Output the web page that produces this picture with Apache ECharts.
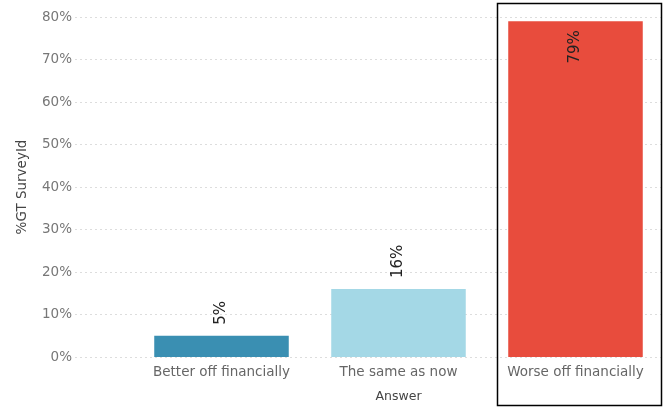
<!DOCTYPE html>
<html>
<head>
<meta charset="utf-8">
<script src="https://cdn.jsdelivr.net/npm/echarts@6/dist/echarts.min.js"></script>
<style>
html,body{margin:0;padding:0;background:#fff;}
#c{width:663px;height:407px;}
</style>
</head>
<body>
<div id="c"></div>
<script>
const categories = ["Better off financially", "The same as now", "Worse off financially"];
const values = [5, 16, 79];
const barColors = ["#3a8fb2", "#a4d8e6", "#e84c3d"];
const yTicks = [0, 10, 20, 30, 40, 50, 60, 70, 80];

const chart = echarts.init(document.getElementById('c'), null, {renderer: 'canvas'});
const font = '"DejaVu Sans", sans-serif';
const option = {
  animation: false,
  backgroundColor: '#fff',
  textStyle: {fontFamily: font},
  grid: [
    {left: 75, right: 0, top: 17, bottom: 50, containLabel: false, outerBoundsMode: 'none'},
    {left: 133, right: -1, top: 17, bottom: 50, containLabel: false, outerBoundsMode: 'none'}
  ],
  xAxis: [
    {gridIndex: 0, type: 'value', show: false, min: 0, max: 1},
    {gridIndex: 1, type: 'category', data: categories,
     axisLine: {show: false}, axisTick: {show: false},
     axisLabel: {color: '#666', fontSize: 13.5, margin: 8, fontFamily: font,
       interval: 0, hideOverlap: false},
     name: 'Answer', nameLocation: 'middle', nameGap: 33,
     nameTextStyle: {color: '#444', fontSize: 12.5, fontFamily: font}}
  ],
  yAxis: [
    {gridIndex: 0, type: 'value', min: 0, max: 80, interval: 10,
     axisLine: {show: false}, axisTick: {show: false},
     axisLabel: {color: '#777', fontSize: 13.5, margin: 3,
       formatter: v => yTicks.indexOf(v) >= 0 ? v + '%' : '', fontFamily: font},
     splitLine: {lineStyle: {color: '#ddd', type: [2, 3], width: 1}},
     name: '%GT SurveyId', nameLocation: 'middle', nameGap: 46, nameRotate: 90,
     nameTextStyle: {color: '#444', fontSize: 13.5, fontFamily: font}},
    {gridIndex: 1, type: 'value', min: 0, max: 80, interval: 10, show: false}
  ],
  series: [{
    type: 'bar',
    xAxisIndex: 1, yAxisIndex: 1,
    barCategoryGap: '24%',
    data: values.map((v, i) => ({value: v, itemStyle: {color: barColors[i]}})),
    label: {
      show: true,
      rotate: 90,
      color: '#222',
      fontSize: 15,
      fontFamily: font,
      formatter: p => p.value + '%',
      position: 'top',
      align: 'left',
      verticalAlign: 'middle',
      distance: 11
    }
  }],
  graphic: [{
    type: 'rect',
    shape: {x: 497.5, y: 3.5, width: 164, height: 402},
    style: {fill: 'none', stroke: '#000', lineWidth: 1.5},
    z: 100
  }]
};
option.series[0].data[2].label = {position: 'insideTop', align: 'right', distance: 9};
chart.setOption(option);
</script>
</body>
</html>
